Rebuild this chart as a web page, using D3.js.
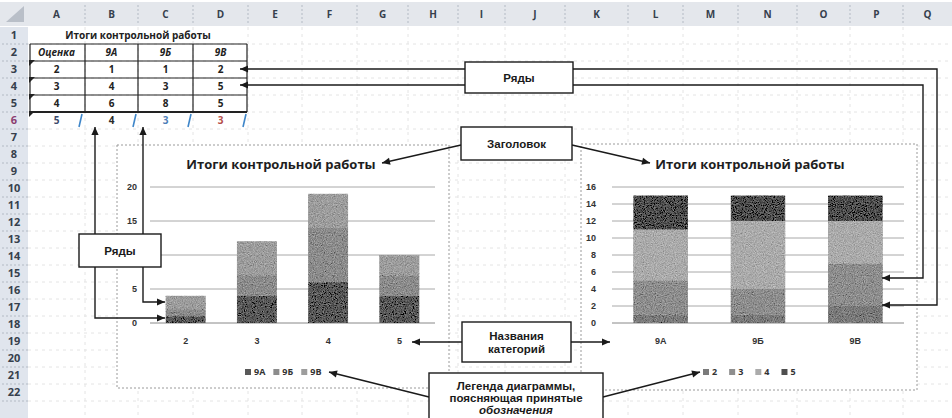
<!DOCTYPE html>
<html lang="ru">
<head>
<meta charset="utf-8">
<title>Итоги контрольной работы</title>
<script src="https://cdn.jsdelivr.net/npm/d3@7"></script>
<style>
  body { margin: 0; background: #fff; }
  svg { display: block; font-family: "Open Sans", sans-serif; }
  .cell { font-size: 10px; font-weight: bold; fill: #222; }
  .hdr { font-size: 10px; font-weight: bold; fill: #36404c; }
  .tick { font-size: 9px; font-weight: bold; fill: #333; }
  .ctitle { font-size: 13px; font-weight: bold; fill: #1e1e1e; }
  .note { font-family: "Liberation Sans", Arial, sans-serif; font-size: 11.5px; font-weight: bold; fill: #1a1a1a; }
  .box { fill: #fff; stroke: #1a1a1a; stroke-width: 1.4; }
  .lead { fill: none; stroke: #1a1a1a; stroke-width: 1.4; }
</style>
</head>
<body>
<svg width="952" height="418"></svg>
<script>
// таблица "Итоги контрольной работы"
var grades = ["2", "3", "4", "5"];
var classes = ["9А", "9Б", "9В"];
var scores9A = [1, 4, 6, 4];
var scores9B = [1, 3, 8, 3];
var scores9V = [2, 5, 5, 3];
var leftTicks = [0, 5, 10, 15, 20];
var rightTicks = [0, 2, 4, 6, 8, 10, 12, 14, 16];
var colLetters = ["A", "B", "C", "D", "E", "F", "G", "H", "I", "J", "K", "L", "M", "N", "O", "P", "Q"];
var tableTitle = "Итоги контрольной работы";
var chartTitle = "Итоги контрольной работы";

// раскладка листа
var colEdges = [28, 85, 138, 193, 248, 302, 357, 408, 458, 505, 565, 628, 683, 738, 797, 850, 903, 952];
var rowH = 17, sheetTop = 27, nRows = 22;
function rowTop(n) { return sheetTop + (n - 1) * rowH; }
function rowMid(n) { return rowTop(n) + rowH / 2; }
function colMid(i) { return (colEdges[i] + colEdges[i + 1]) / 2; }

var svg = d3.select("svg");
var defs = svg.append("defs");

defs.append("marker")
    .attr("id", "ah")
    .attr("viewBox", "0 0 10 10")
    .attr("refX", 10).attr("refY", 5)
    .attr("markerWidth", 9).attr("markerHeight", 8)
    .attr("markerUnits", "userSpaceOnUse")
    .attr("orient", "auto")
  .append("path")
    .attr("d", "M0,0.5 L10,5 L0,9.5 z")
    .attr("fill", "#1a1a1a");

// зерно как на скане
var grain = defs.append("filter").attr("id", "grain")
    .attr("x", 0).attr("y", 0).attr("width", 1).attr("height", 1);
grain.append("feTurbulence").attr("type", "fractalNoise")
    .attr("baseFrequency", 0.9).attr("numOctaves", 2).attr("seed", 4).attr("result", "n");
grain.append("feColorMatrix").attr("in", "n").attr("type", "matrix")
    .attr("values", "0.33 0.33 0.33 0 0  0.33 0.33 0.33 0 0  0.33 0.33 0.33 0 0  0 0 0 0 1")
    .attr("result", "g");
grain.append("feComposite").attr("in", "SourceGraphic").attr("in2", "g")
    .attr("operator", "arithmetic")
    .attr("k1", 0).attr("k2", 1).attr("k3", 0.8).attr("k4", -0.4).attr("result", "m");
grain.append("feComposite").attr("in", "m").attr("in2", "SourceAlpha").attr("operator", "in");

// --- лист Excel ---
var sheet = svg.append("g");

// бледная сетка ячеек
sheet.selectAll(".rl").data(d3.range(1, nRows + 1)).enter().append("line")
    .attr("x1", 28).attr("x2", 952)
    .attr("y1", function(n) { return rowTop(n) + rowH; })
    .attr("y2", function(n) { return rowTop(n) + rowH; })
    .attr("stroke", "#e4e4e4").attr("stroke-dasharray", "3,4");
sheet.selectAll(".cl").data(colEdges.slice(1, -1)).enter().append("line")
    .attr("x1", function(d) { return d; }).attr("x2", function(d) { return d; })
    .attr("y1", sheetTop).attr("y2", 418)
    .attr("stroke", "#e4e4e4").attr("stroke-dasharray", "3,4");

// заголовки столбцов
sheet.append("rect").attr("x", 0).attr("y", 2).attr("width", 952).attr("height", 24).attr("fill", "#e4e7ec");
sheet.append("path").attr("d", "M6,22 L24,22 L24,6 z").attr("fill", "#b9bfc8");
sheet.selectAll(".colhdr").data(colLetters).enter().append("text")
    .attr("class", "hdr")
    .attr("x", function(d, i) { return colMid(i); })
    .attr("y", 14).attr("dy", "0.35em")
    .attr("text-anchor", "middle")
    .text(function(d) { return d; });
sheet.selectAll(".colsep").data(colEdges.slice(1, -1)).enter().append("line")
    .attr("x1", function(d) { return d; }).attr("x2", function(d) { return d; })
    .attr("y1", 5).attr("y2", 24)
    .attr("stroke", "#b3bac4").attr("stroke-dasharray", "2,2");

// номера строк
sheet.append("rect").attr("x", 0).attr("y", sheetTop).attr("width", 28).attr("height", 391).attr("fill", "#e0e5ed");
sheet.selectAll(".rowhdr").data(d3.range(1, nRows + 1)).enter().append("text")
    .attr("class", "hdr")
    .style("font-size", "11px")
    .attr("x", 14)
    .attr("y", function(n) { return rowMid(n); }).attr("dy", "0.35em")
    .attr("text-anchor", "middle")
    .style("fill", function(n) { return n === 6 ? "#8b3d70" : null; })
    .text(function(d) { return d; });
sheet.selectAll(".rowsep").data(d3.range(1, nRows + 1)).enter().append("line")
    .attr("x1", 2).attr("x2", 28)
    .attr("y1", function(n) { return rowTop(n) + rowH; })
    .attr("y2", function(n) { return rowTop(n) + rowH; })
    .attr("stroke", "#b3bac4").attr("stroke-dasharray", "2,2");

// таблица данных
sheet.append("text").attr("class", "cell")
    .attr("x", (colEdges[0] + colEdges[4]) / 2).attr("y", rowMid(1)).attr("dy", "0.35em")
    .attr("text-anchor", "middle").text(tableTitle);

var header = ["Оценка"].concat(classes);
sheet.selectAll(".th").data(header).enter().append("text")
    .attr("class", "cell")
    .style("font-style", "italic")
    .attr("x", function(d, i) { return colMid(i); })
    .attr("y", rowMid(2)).attr("dy", "0.35em")
    .attr("text-anchor", "middle")
    .text(function(d) { return d; });

var tableRows = grades.map(function(g, i) { return [g, scores9A[i], scores9B[i], scores9V[i]]; });
var rowColors = [null, null, null, ["#3b4a6b", "#2a2a2a", "#4f7fb8", "#b5504a"]];
tableRows.forEach(function(r, ri) {
  sheet.selectAll(".td" + ri).data(r).enter().append("text")
      .attr("class", "cell")
      .attr("x", function(d, i) { return colMid(i); })
      .attr("y", rowMid(ri + 3)).attr("dy", "0.35em")
      .attr("text-anchor", "middle")
      .style("fill", function(d, i) { return rowColors[ri] ? rowColors[ri][i] : null; })
      .text(function(d) { return d; });
});

// рамки A2:D5
var tx0 = 30, tx1 = colEdges[4] - 1;
sheet.selectAll(".hb").data(d3.range(2, 7)).enter().append("line")
    .attr("x1", tx0).attr("x2", tx1)
    .attr("y1", function(n) { return rowTop(n); }).attr("y2", function(n) { return rowTop(n); })
    .attr("stroke", "#222").attr("stroke-width", function(n) { return n === 6 ? 1.8 : 1.2; });
sheet.selectAll(".vb").data([tx0, colEdges[1], colEdges[2], colEdges[3], tx1]).enter().append("line")
    .attr("x1", function(d) { return d; }).attr("x2", function(d) { return d; })
    .attr("y1", rowTop(2)).attr("y2", rowTop(6))
    .attr("stroke", "#222").attr("stroke-width", 1.2);
// уголки "число как текст"
sheet.selectAll(".tri").data(d3.range(3, 7)).enter().append("path")
    .attr("d", function(n) { var y = rowTop(n); return "M" + (tx0 - 1) + "," + (y - 1) + " l6,0 l-6,6 z"; })
    .attr("fill", "#222");
// выделение диапазона в строке 6
sheet.selectAll(".sel").data([colEdges[1] - 5, colEdges[2] - 4, colEdges[3] - 4, colEdges[4] - 4]).enter().append("line")
    .attr("x1", function(d) { return d + 2; }).attr("x2", function(d) { return d - 1; })
    .attr("y1", rowTop(6) + 2).attr("y2", rowTop(6) + 15)
    .attr("stroke", "#3f86c9").attr("stroke-width", 1.6);

// --- диаграммы ---
function stackedChart(cfg) {
  var g = svg.append("g");
  g.append("rect")
      .attr("x", cfg.box[0]).attr("y", cfg.box[1])
      .attr("width", cfg.box[2] - cfg.box[0]).attr("height", cfg.box[3] - cfg.box[1])
      .attr("fill", "#fff").attr("stroke", "#9a9a9a").attr("stroke-dasharray", "2,2");

  var x = d3.scaleBand().domain(cfg.cats).range(cfg.xRange).paddingInner(0.44).paddingOuter(0.22);
  var y = d3.scaleLinear().domain([0, d3.max(cfg.ticks)]).range([323, 187]);

  g.selectAll(".grid").data(cfg.ticks).enter().append("line")
      .attr("x1", cfg.xRange[0]).attr("x2", cfg.xRange[1])
      .attr("y1", function(d) { return y(d); }).attr("y2", function(d) { return y(d); })
      .attr("stroke", function(d) { return d === 0 ? "#888" : "#a8a8a8"; })
      .attr("stroke-width", 1);

  // подпись, закрытая выноской, не выводится
  var hidden = cfg.hiddenLabels || [];
  var yAxis = g.append("g")
      .attr("transform", "translate(" + (cfg.labelX + 4) + ",0)")
      .call(d3.axisLeft(y).tickValues(cfg.ticks.filter(function(t) { return hidden.indexOf(t) < 0; }))
        .tickSize(0).tickPadding(4));
  yAxis.select(".domain").remove();
  yAxis.selectAll("text").attr("class", "tick").attr("fill", null);

  var rows = cfg.cats.map(function(c, i) {
    var r = { cat: c };
    cfg.keys.forEach(function(k, j) { r[k] = cfg.value(i, j); });
    return r;
  });
  var series = d3.stack().keys(cfg.keys)(rows);

  g.selectAll(".series").data(series).enter().append("g")
      .attr("fill", function(d, j) { return cfg.colors[j]; })
      .attr("filter", "url(#grain)")
    .selectAll("rect").data(function(d) { return d; }).enter().append("rect")
      .attr("x", function(d) { return x(d.data.cat); })
      .attr("width", x.bandwidth())
      .attr("y", function(d) { return y(d[1]); })
      .attr("height", function(d) { return y(d[0]) - y(d[1]); });

  var xAxis = g.append("g")
      .attr("transform", "translate(0,334)")
      .call(d3.axisBottom(x).tickSize(0).tickPadding(4));
  xAxis.select(".domain").remove();
  xAxis.selectAll("text").attr("class", "tick").attr("fill", null);

  g.append("text").attr("class", "ctitle")
      .attr("x", cfg.titleX).attr("y", 164).attr("dy", "0.35em")
      .attr("text-anchor", "middle").text(chartTitle);

  // легенда
  var lg = g.append("g").attr("transform", "translate(" + cfg.legendX + ",372)");
  var cx = 0;
  cfg.keys.forEach(function(k, j) {
    lg.append("rect").attr("x", cx).attr("y", -3).attr("width", 6).attr("height", 6).attr("fill", cfg.colors[j]);
    var t = lg.append("text").attr("class", "tick").attr("x", cx + 9).attr("dy", "0.35em").text(k);
    cx += 9 + t.node().getComputedTextLength() + cfg.legendGap;
  });
  return g;
}

var byClass = [scores9A, scores9B, scores9V];

stackedChart({
  box: [117, 145, 449, 388],
  cats: grades, keys: classes,
  value: function(i, j) { return byClass[j][i]; },
  colors: ["#595959", "#8c8c8c", "#9d9d9d"],
  ticks: leftTicks, hiddenLabels: [10], xRange: [150, 435], labelX: 137,
  titleX: 281, legendX: 245, legendGap: 8
});

stackedChart({
  box: [581, 144, 917, 390],
  cats: classes, keys: grades,
  value: function(i, j) { return byClass[i][j]; },
  colors: ["#7b7b7b", "#8e8e8e", "#ababab", "#4f4f4f"],
  ticks: rightTicks, xRange: [612, 904], labelX: 596,
  titleX: 750, legendX: 703, legendGap: 12
});

// --- выноски ---
var notes = svg.append("g");
function lead(d) {
  notes.append("path").attr("class", "lead").attr("d", d).attr("marker-end", "url(#ah)");
}
function box(x0, y0, x1, y1, lines, styles) {
  notes.append("rect").attr("class", "box")
      .attr("x", x0).attr("y", y0).attr("width", x1 - x0).attr("height", y1 - y0);
  var t = notes.append("text").attr("class", "note").attr("text-anchor", "middle");
  var step = styles && styles.step ? styles.step : 13;
  var top = styles && styles.top !== undefined ? styles.top : (y0 + y1) / 2 - (lines.length - 1) * step / 2;
  lines.forEach(function(s, i) {
    t.append("tspan").attr("x", (x0 + x1) / 2).attr("y", top + i * step).attr("dy", "0.35em")
        .style("font-style", styles && styles.italic === i ? "italic" : null)
        .text(s);
  });
}

// ряды (верх)
lead("M465,69 H240");
lead("M465,85 H240");
lead("M573,69 H937 V305 H882");
lead("M573,85 H923 V278 H882");
box(465, 62, 573, 93, ["Ряды"]);

// ряды (слева)
lead("M95,234 V127");
lead("M143,234 V127");
lead("M95,267 V318 H165");
lead("M143,267 V302 H165");
box(79, 234, 161, 267, ["Ряды"]);

// заголовок
lead("M461,145 L382,163");
lead("M572,145 L650,163");
box(461, 127, 572, 160, ["Заголовок"]);

// названия категорий
lead("M462,342 H412");
lead("M571,342 H610");
box(462, 322, 571, 362, ["Названия", "категорий"]);

// легенда
lead("M429,397 L329,372");
lead("M603,397 L700,372");
box(429, 373, 603, 425, ["Легенда диаграммы,", "поясняющая принятые", "обозначения"], { top: 386, step: 12, italic: 2 });
</script>
</body>
</html>
